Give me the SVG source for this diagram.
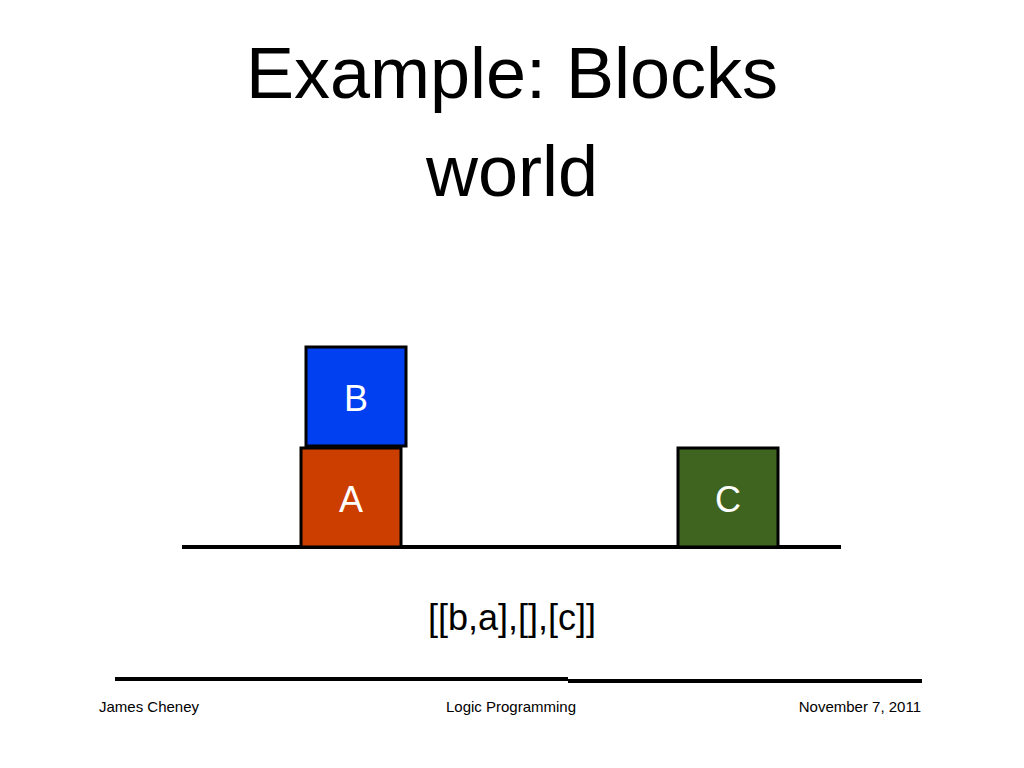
<svg xmlns="http://www.w3.org/2000/svg" width="1024" height="768" viewBox="0 0 1024 768">
<style>
text{font-family:"Liberation Sans",Arial,sans-serif}
.blk{stroke:#000;stroke-width:3}
.lbl{fill:#fff;font-size:36px;text-anchor:middle}
.ft{font-size:15px;fill:#000}
</style>
<rect width="1024" height="768" fill="#fff"/>
<text x="512" y="98" font-size="72" text-anchor="middle">Example: Blocks</text>
<text x="512" y="196" font-size="72" text-anchor="middle">world</text>
<g id="ground"><line x1="182" y1="547" x2="841" y2="547" stroke="#000" stroke-width="4"/></g>
<g id="B"><rect class="blk" x="306" y="347" width="100" height="99" fill="#0040f0"/><text class="lbl" x="356" y="411">B</text></g>
<g id="A"><rect class="blk" x="301" y="448" width="100" height="99" fill="#cc3d00"/><text class="lbl" x="351" y="512">A</text></g>
<g id="C"><rect class="blk" x="678" y="448" width="100" height="99" fill="#3e6420"/><text class="lbl" x="728" y="512">C</text></g>
<text x="512" y="630" font-size="36" text-anchor="middle">[[b,a],[],[c]]</text>
<line x1="115" y1="679" x2="568" y2="679" stroke="#000" stroke-width="4"/>
<line x1="568" y1="681" x2="922" y2="681" stroke="#000" stroke-width="4"/>
<text class="ft" x="99" y="712">James Cheney</text>
<text class="ft" x="511" y="712" text-anchor="middle">Logic Programming</text>
<text class="ft" x="921" y="712" text-anchor="end">November 7, 2011</text>
</svg>
